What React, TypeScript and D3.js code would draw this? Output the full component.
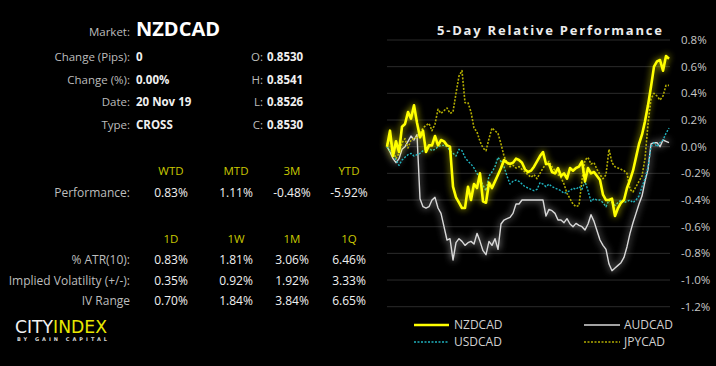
import * as d3 from "d3";
import React from "react";

// 5-day relative performance, % change, hourly-ish samples
const nzdcad = [
  0.0, 0.12, -0.07, 0.04, -0.04, 0.15, 0.17, 0.26, 0.21, 0.31,
  0.18, 0.07, 0.12, -0.04, 0.01, 0.01, 0.08, 0.01, 0.05, 0.04,
  0.01, 0.0, -0.3, -0.38, -0.42, -0.46, -0.46, -0.3, -0.4, -0.28,
  -0.31, -0.2, -0.41, -0.42, -0.27, -0.31, -0.26, -0.21, -0.16, -0.1,
  -0.12, -0.13, -0.12, -0.09, -0.1, -0.12, -0.17, -0.19, -0.18, -0.15,
  -0.11, -0.07, -0.04, -0.13, -0.13, -0.19, -0.2, -0.16, -0.22, -0.2,
  -0.24, -0.16, -0.18, -0.16, -0.15, -0.11, -0.26, -0.16, -0.2, -0.19,
  -0.22, -0.25, -0.36, -0.4, -0.4, -0.39, -0.52, -0.46, -0.42, -0.4,
  -0.31, -0.25, -0.18, -0.08, 0.02, 0.09, 0.19, 0.31, 0.45, 0.6,
  0.64, 0.65, 0.57, 0.68, 0.66,
];
const audcad = [
  0.0, -0.04, -0.09, -0.12, -0.09, -0.02, 0.0, 0.04, 0.08, 0.05,
  0.09, -0.39, -0.45, -0.46, -0.45, -0.4, -0.38, -0.46, -0.5, -0.6,
  -0.7, -0.69, -0.85, -0.72, -0.69, -0.71, -0.74, -0.72, -0.71, -0.73,
  -0.65, -0.71, -0.78, -0.81, -0.71, -0.74, -0.69, -0.77, -0.58, -0.55,
  -0.54, -0.53, -0.5, -0.43, -0.43, -0.4, -0.4, -0.4, -0.4, -0.4,
  -0.4, -0.4, -0.4, -0.52, -0.47, -0.48, -0.5, -0.55, -0.55, -0.57,
  -0.54, -0.58, -0.6, -0.575, -0.59, -0.6, -0.625, -0.58, -0.51, -0.56,
  -0.63, -0.7, -0.74, -0.77, -0.88, -0.93, -0.91, -0.89, -0.87, -0.83,
  -0.75, -0.65, -0.57, -0.5, -0.43, -0.37, -0.26, -0.17, 0.02, 0.03,
  0.03, 0.0, 0.05, 0.04, 0.03,
];
const usdcad = [
  0.0, -0.03, -0.06, -0.1, -0.14, -0.1, -0.08, -0.06, -0.05, -0.07,
  -0.06, -0.05, -0.03, -0.01, -0.01, -0.03, -0.02, 0.0, 0.01, 0.01,
  0.0, -0.03, -0.05, -0.07, -0.02, -0.03, -0.08, -0.11, -0.13, -0.16,
  -0.2, -0.24, -0.29, -0.33, -0.22, -0.19, -0.15, -0.08, -0.11, -0.15,
  -0.22, -0.28, -0.26, -0.25, -0.26, -0.28, -0.3, -0.31, -0.32, -0.33,
  -0.32, -0.27, -0.28, -0.3, -0.28, -0.3, -0.31, -0.32, -0.33, -0.35,
  -0.34, -0.33, -0.31, -0.32, -0.3, -0.32, -0.26, -0.33, -0.41, -0.39,
  -0.4, -0.4, -0.42, -0.45, -0.4, -0.42, -0.44, -0.42, -0.4, -0.42,
  -0.41, -0.4, -0.42, -0.4, -0.37, -0.3, -0.24, -0.15, 0.0, 0.03,
  0.0, 0.03, 0.05, 0.1, 0.14,
];
const jpycad = [
  0.02, 0.05, -0.02, -0.09, -0.05, 0.03, 0.06, -0.01, 0.05, 0.06,
  0.07, 0.1, 0.14, 0.16, 0.175, 0.12, 0.17, 0.28, 0.25, 0.27,
  0.29, 0.25, 0.26, 0.4, 0.53, 0.57, 0.33, 0.33, 0.26, 0.14,
  0.11, 0.04, -0.01, -0.03, 0.06, 0.14, 0.12, 0.1, 0.02, -0.07,
  -0.12, -0.15, -0.14, -0.16, -0.15, -0.17, -0.19, -0.21, -0.23, -0.21,
  -0.24, -0.2, -0.16, -0.13, -0.11, -0.15, -0.18, -0.21, -0.23, -0.28,
  -0.35, -0.39, -0.43, -0.45, -0.44, -0.25, -0.1, -0.08, -0.13, -0.12,
  -0.17, -0.21, -0.24, -0.21, -0.02, -0.12, -0.15, -0.16, -0.17, -0.18,
  -0.2, -0.32, -0.34, -0.3, -0.26, -0.22, -0.09, 0.17, 0.36, 0.4,
  0.38, 0.35, 0.38, 0.46, 0.46,
];

const infoLabels = ["Change (Pips):", "Change (%):", "Date:", "Type:"];
const infoValues = ["0", "0.00%", "20 Nov 19", "CROSS"];
const ohlcLabels = ["O:", "H:", "L:", "C:"];
const ohlcValues = ["0.8530", "0.8541", "0.8526", "0.8530"];

const perfHeaders = ["WTD", "MTD", "3M", "YTD"];
const perfValues = ["0.83%", "1.11%", "-0.48%", "-5.92%"];
const volHeaders = ["1D", "1W", "1M", "1Q"];
const volRows = ["% ATR(10):", "Implied Volatility (+/-):", "IV Range"];
const volValues = [
  ["0.83%", "1.81%", "3.06%", "6.46%"],
  ["0.35%", "0.92%", "1.92%", "3.33%"],
  ["0.70%", "1.84%", "3.84%", "6.65%"],
];

const font = "'Open Sans', sans-serif";
const labelColor = "#bdbdbd";
const valueColor = "#f0f0f0";
const headColor = "#c9c900";

const series = [
  { name: "AUDCAD", values: audcad, color: "#d9d9d9", width: 1.4, dash: null, glow: "glowW" },
  { name: "JPYCAD", values: jpycad, color: "#b3ad00", width: 1.6, dash: "2,1.5", glow: null },
  { name: "USDCAD", values: usdcad, color: "#1fb3bf", width: 1.4, dash: "2,1.5", glow: null },
  { name: "NZDCAD", values: nzdcad, color: "#ffff00", width: 2.6, dash: null, glow: "glowY" },
];

const App = () => {
  const width = 716;
  const height = 366;

  const x = d3.scaleLinear().domain([0, nzdcad.length - 1]).range([387, 669]);
  const y = d3.scaleLinear().domain([-1.2, 0.8]).range([306.7, 40]);
  const line = d3.line<number>().x((d, i) => x(i)).y((d) => y(d));
  const yTicks = d3.range(-1.2, 0.81, 0.2);
  const fmt = (v: number) => (Math.abs(v) < 1e-9 ? "0.0" : v.toFixed(1)) + "%";

  const colX = [171, 236, 292, 349];
  const rowY = [61, 84, 106, 129];

  return (
    <svg width={width} height={height} style={{ position: "absolute", left: 0, top: 0, background: "#000" }}>
      <defs>
        <filter id="glowY" x="-20%" y="-20%" width="140%" height="140%">
          <feGaussianBlur in="SourceGraphic" stdDeviation="3.5" result="b" />
          <feComponentTransfer in="b" result="b2">
            <feFuncA type="linear" slope="0.8" />
          </feComponentTransfer>
          <feMerge>
            <feMergeNode in="b2" />
            <feMergeNode in="SourceGraphic" />
          </feMerge>
        </filter>
        <filter id="glowW" x="-20%" y="-20%" width="140%" height="140%">
          <feGaussianBlur in="SourceGraphic" stdDeviation="3.5" result="b" />
          <feMerge>
            <feMergeNode in="b" />
            <feMergeNode in="SourceGraphic" />
          </feMerge>
        </filter>
      </defs>
      <rect width={width} height={height} fill="#000" />

      {/* left info panel */}
      <g fontFamily={font}>
        <text x={130} y={36} textAnchor="end" fontSize={11.5} fill={labelColor}>Market:</text>
        <text x={136} y={36} fontSize={20} fontWeight="bold" fill="#fff">NZDCAD</text>
        {infoLabels.map((l, i) => (
          <g key={l}>
            <text x={130} y={rowY[i]} textAnchor="end" fontSize={11.5} fill={labelColor}>{l}</text>
            <text x={136} y={rowY[i]} fontSize={11.5} fontWeight="bold" fill={valueColor}>{infoValues[i]}</text>
            <text x={263} y={rowY[i]} textAnchor="end" fontSize={11.5} fill={labelColor}>{ohlcLabels[i]}</text>
            <text x={267} y={rowY[i]} fontSize={11.5} fontWeight="bold" fill={valueColor}>{ohlcValues[i]}</text>
          </g>
        ))}

        {perfHeaders.map((h, i) => (
          <text key={h} x={colX[i]} y={175} textAnchor="middle" fontSize={11.5} fill={headColor}>{h}</text>
        ))}
        <text x={130} y={197} textAnchor="end" fontSize={12} fill={labelColor}>Performance:</text>
        {perfValues.map((v, i) => (
          <text key={i} x={colX[i]} y={197} textAnchor="middle" fontSize={12} fill={valueColor}>{v}</text>
        ))}

        {volHeaders.map((h, i) => (
          <text key={h} x={colX[i]} y={243} textAnchor="middle" fontSize={11.5} fill={headColor}>{h}</text>
        ))}
        {volRows.map((r, j) => (
          <g key={r}>
            <text x={130} y={264 + j * 20.5} textAnchor="end" fontSize={12} fill={labelColor}>{r}</text>
            {volValues[j].map((v, i) => (
              <text key={i} x={colX[i]} y={264 + j * 20.5} textAnchor="middle" fontSize={12} fill={valueColor}>{v}</text>
            ))}
          </g>
        ))}
      </g>

      {/* logo */}
      <g fontFamily="'DejaVu Sans', sans-serif">
        <text x={15} y={333} fontSize={17} textLength={92} lengthAdjust="spacingAndGlyphs">
          <tspan fill="#f2f2f2">CITY</tspan>
          <tspan fill="#e8e800">INDEX</tspan>
        </text>
        <text x={17} y={341} fontSize={5} fontWeight="bold" fill="#d8d8d8" textLength={90} lengthAdjust="spacing">BY GAIN CAPITAL</text>
      </g>

      {/* chart */}
      <text x={662} y={35} textAnchor="end" fontFamily={font} fontSize={13} fontWeight="bold" fill="#ececec"
        textLength={225} lengthAdjust="spacing">5-Day Relative Performance</text>

      {yTicks.map((t) => (
        <g key={t.toFixed(1)}>
          <line x1={387} x2={670} y1={y(t)} y2={y(t)} stroke="#2b2b2b" strokeWidth={1} />
          <text x={681} y={y(t)} dy="0.35em" fontFamily={font} fontSize={11.5} fill="#c8c8c8">{fmt(t)}</text>
        </g>
      ))}

      {series.map((s) => (
        <path key={s.name} d={line(s.values) || ""} fill="none" stroke={s.color} strokeWidth={s.width}
          strokeDasharray={s.dash || undefined} strokeLinejoin="round"
          filter={s.glow ? `url(#${s.glow})` : undefined} />
      ))}

      {/* legend */}
      <g fontFamily={font} fontSize={12} fill="#d0d0d0">
        <line x1={414} x2={449} y1={325} y2={325} stroke="#ffff00" strokeWidth={2.5} />
        <text x={454} y={325} dy="0.35em">NZDCAD</text>
        <line x1={584} x2={620} y1={325} y2={325} stroke="#d9d9d9" strokeWidth={1.4} />
        <text x={624} y={325} dy="0.35em">AUDCAD</text>
        <line x1={414} x2={449} y1={342} y2={342} stroke="#1fb3bf" strokeWidth={1.4} strokeDasharray="2,1.5" />
        <text x={454} y={342} dy="0.35em">USDCAD</text>
        <line x1={584} x2={620} y1={342} y2={342} stroke="#b3ad00" strokeWidth={1.6} strokeDasharray="2,1.5" />
        <text x={624} y={342} dy="0.35em">JPYCAD</text>
      </g>
    </svg>
  );
};

export default App;
